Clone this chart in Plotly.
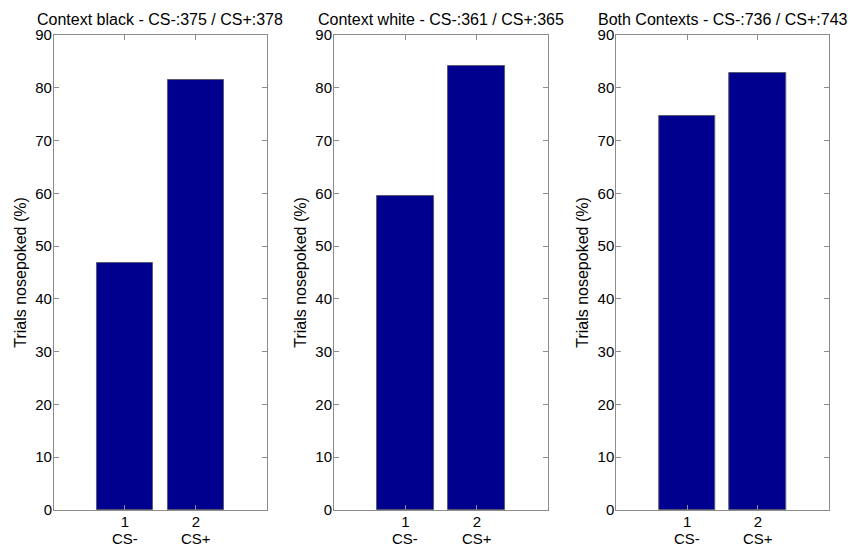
import plotly.graph_objects as go

# Nosepoke rates per context
titles = [
    "Context black - CS-:375 / CS+:378",
    "Context white - CS-:361 / CS+:365",
    "Both Contexts - CS-:736 / CS+:743",
]
positions = [1, 2]
tick_numbers = ["1", "2"]
tick_names = ["CS-", "CS+"]
black_pct = [46.8, 81.5]
white_pct = [59.5, 84.1]
both_pct = [74.7, 82.8]
panels = [black_pct, white_pct, both_pct]
y_ticks = [0, 10, 20, 30, 40, 50, 60, 70, 80, 90]

BAR_COLOR = "rgb(0,0,143)"
FRAME = "rgb(140,140,140)"
FONT = "Liberation Sans, Arial, Helvetica, sans-serif"
TICK_FONT = dict(family=FONT, size=15, color="black")

fig = go.Figure()

x_domains = [(0.0635, 0.314), (0.393, 0.645), (0.725, 0.975)]
y_domain = (0.0744, 0.9365)

for i, (vals, title, dom) in enumerate(zip(panels, titles, x_domains)):
    n = "" if i == 0 else str(i + 1)
    fig.add_trace(go.Bar(
        x=positions, y=vals, width=0.8,
        marker=dict(color=BAR_COLOR, line=dict(color="rgb(90,90,110)", width=1)),
        xaxis="x" + n, yaxis="y" + n, showlegend=False,
    ))
    axis_common = dict(
        showline=True, linecolor=FRAME, linewidth=1, mirror="allticks",
        ticks="inside", ticklen=5, tickcolor=FRAME, showgrid=False, zeroline=False,
        tickfont=TICK_FONT, automargin=False,
    )
    fig.layout["xaxis" + n] = dict(
        domain=list(dom), anchor="y" + n, range=[0, 3],
        tickvals=positions, ticktext=tick_numbers, ticklabelstandoff=-2,
        **axis_common,
    )
    fig.layout["yaxis" + n] = dict(
        domain=list(y_domain), anchor="x" + n, range=[0, 90],
        tickvals=y_ticks, ticklabelstandoff=-2,
        title=dict(text="Trials nosepoked (%)", font=dict(family=FONT, size=16, color="black"), standoff=4),
        **axis_common,
    )
    # second line of the category labels
    for pos, name in zip(positions, tick_names):
        fig.add_annotation(
            text=name, x=pos, xref="x" + n, y=y_domain[0], yref="paper",
            xanchor="center", yanchor="middle", yshift=-28, showarrow=False,
            font=TICK_FONT,
        )
    fig.add_annotation(
        text=title, x=(dom[0] + dom[1]) / 2, y=y_domain[1], xref="paper", yref="paper",
        xanchor="center", yanchor="bottom", yshift=5, showarrow=False,
        font=dict(family=FONT, size=16, color="black"),
    )

fig.update_layout(
    width=850, height=551,
    margin=dict(l=0, r=0, t=0, b=0, autoexpand=False),
    paper_bgcolor="white", plot_bgcolor="white",
    bargap=0,
)

fig.write_html("out.html")
